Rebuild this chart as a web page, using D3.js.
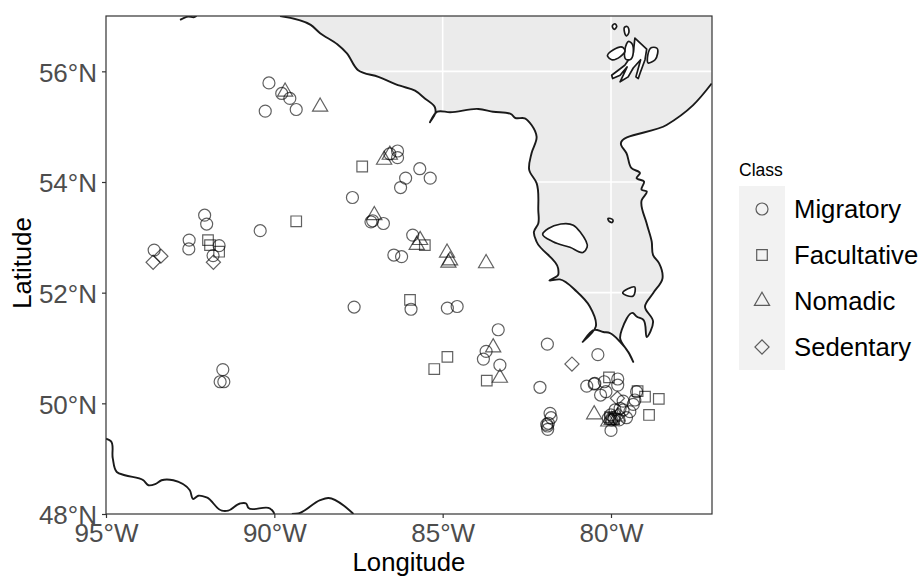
<!DOCTYPE html>
<html><head><meta charset="utf-8">
<script src="https://cdn.jsdelivr.net/npm/d3@7"></script>
<style>html,body{margin:0;padding:0;background:#fff}svg{display:block}text{font-family:"Liberation Sans",Arial,sans-serif}</style>
</head><body><svg id="c" width="921" height="576"></svg>
<script>
const migratory=[[-90.16,55.79],[-89.78,55.60],[-89.54,55.51],[-90.27,55.28],[-89.35,55.31],[-86.57,54.51],[-86.34,54.56],[-86.34,54.44],[-85.68,54.24],[-85.37,54.07],[-86.10,54.07],[-86.25,53.90],[-87.68,53.72],[-87.13,53.28],[-87.08,53.30],[-86.76,53.25],[-85.89,53.04],[-86.45,52.68],[-86.22,52.65],[-85.94,51.70],[-87.63,51.74],[-84.86,51.72],[-84.57,51.75],[-83.35,51.33],[-83.71,50.94],[-83.79,50.80],[-83.30,50.69],[-81.89,51.07],[-82.11,50.29],[-80.39,50.88],[-92.07,53.40],[-92.01,53.24],[-92.53,52.95],[-92.54,52.79],[-93.57,52.77],[-91.64,52.85],[-91.82,52.67],[-90.42,53.12],[-91.53,50.61],[-91.61,50.39],[-91.50,50.39],[-81.81,49.82],[-81.78,49.74],[-81.86,49.64],[-81.89,49.59],[-81.91,49.62],[-81.88,49.53],[-80.72,50.31],[-80.50,50.35],[-80.48,50.36],[-80.20,50.39],[-79.80,50.44],[-79.80,50.33],[-80.15,50.21],[-80.31,50.15],[-79.64,50.04],[-79.24,50.21],[-79.29,50.06],[-79.34,49.98],[-79.44,49.85],[-79.54,49.74],[-80.00,49.51],[-80.01,49.79],[-80.08,49.73],[-79.98,49.70],[-79.73,49.91],[-79.88,49.88],[-79.64,49.88],[-79.76,49.70]];
const facultative=[[-87.39,54.28],[-85.53,52.86],[-85.97,51.87],[-84.86,50.84],[-85.25,50.62],[-83.69,50.41],[-91.97,52.95],[-91.91,52.86],[-91.64,52.74],[-89.35,53.29],[-80.06,50.47],[-79.21,50.22],[-78.99,50.12],[-78.58,50.08],[-78.87,49.79],[-80.03,49.75],[-79.91,49.72]];
const nomadic=[[-89.68,55.63],[-88.64,55.36],[-86.74,54.40],[-86.57,54.49],[-87.03,53.40],[-85.67,52.95],[-85.77,52.86],[-84.87,52.72],[-84.78,52.58],[-84.83,52.54],[-83.71,52.53],[-83.50,51.01],[-83.30,50.46],[-80.50,49.80],[-79.98,49.70],[-79.81,49.76],[-80.08,49.67]];
const sedentary=[[-93.37,52.66],[-93.60,52.55],[-91.81,52.55],[-81.16,50.71],[-79.81,50.09],[-79.78,49.79],[-79.93,49.73]];
const classNames=["Migratory","Facultative","Nomadic","Sedentary"];
const lonTicks=[-95,-90,-85,-80];
const latTicks=[48,50,52,54,56];
const bayCoast=[[-89.83,57],[-88.92,56.84],[-88.64,56.69],[-88.13,56.49],[-87.85,56.33],[-87.51,56.02],[-86.91,55.90],[-86.27,55.74],[-85.82,55.65],[-85.53,55.51],[-85.23,55.35],[-85.21,55.27],[-85.38,55.08],[-85.16,55.27],[-84.78,55.26],[-83.94,55.32],[-83.50,55.27],[-82.95,55.22],[-82.85,55.16],[-82.56,55.15],[-82.36,55.03],[-82.21,54.82],[-82.36,54.52],[-82.43,54.22],[-82.21,53.98],[-82.16,53.49],[-82.16,53.25],[-82.29,53.10],[-82.21,52.92],[-81.57,52.44],[-81.57,52.32],[-81.83,52.22],[-81.52,52.24],[-81.02,52.02],[-80.63,51.75],[-80.45,51.39],[-80.84,51.11],[-80.48,51.33],[-80.23,51.29],[-80.03,51.27],[-79.73,51.11],[-79.49,50.93],[-79.34,50.75],[-79.49,50.93],[-79.73,51.18],[-79.68,51.33],[-79.34,51.63],[-79.24,51.57],[-79.04,51.51],[-78.94,51.20],[-78.75,51.48],[-78.99,51.75],[-78.75,51.99],[-78.47,52.26],[-78.57,52.53],[-78.75,52.68],[-78.79,52.92],[-78.94,53.25],[-79.09,53.67],[-78.94,53.83],[-79.09,53.86],[-79.02,54.01],[-79.24,54.07],[-79.14,54.16],[-79.39,54.25],[-79.54,54.52],[-79.70,54.67],[-78.35,55.03],[-77.56,55.39],[-77.01,55.78]];
const bayCorner=[[-77,57]];
const islands=[
[[-82.03,53.06],[-81.86,53.16],[-81.12,53.22],[-80.92,53.10],[-80.71,52.82],[-80.82,52.73],[-81.22,52.82],[-81.72,52.92]],
[[-80.09,53.34],[-79.94,53.31],[-79.96,53.27],[-80.07,53.30]],
[[-79.65,51.99],[-79.29,52.10],[-79.34,51.94],[-79.54,51.95]],
[[-79.96,56.82],[-79.88,56.86],[-79.83,56.81],[-79.91,56.76]],
[[-79.59,56.80],[-79.52,56.81],[-79.47,56.70],[-79.54,56.64]],
[[-79.29,56.60],[-78.94,56.40],[-78.99,56.21],[-79.14,55.96],[-79.19,55.87],[-79.26,55.90],[-79.12,56.21],[-79.34,56.06],[-79.49,55.90],[-79.73,55.81],[-79.52,56.08],[-79.73,55.93],[-79.95,55.87],[-79.98,55.93],[-79.59,56.11],[-79.34,56.33]],
[[-79.46,56.54],[-79.39,56.51],[-79.44,56.21],[-79.54,56.21]],
[[-80.10,56.27],[-79.64,56.43],[-79.59,56.39],[-79.98,56.21]],
[[-78.79,56.43],[-78.64,56.42],[-78.69,56.21],[-78.89,56.15]]
];
const southCoastA=[[-95,49.36],[-94.86,49.32],[-94.80,49.01],[-94.68,48.76],[-94.44,48.70],[-93.89,48.61],[-93.74,48.52],[-93.54,48.54],[-93.35,48.61],[-93.00,48.61],[-92.51,48.43],[-92.41,48.27],[-92.26,48.33],[-92.01,48.30],[-91.56,48.06],[-91.37,48.06],[-91.02,48.19],[-90.84,48.19],[-90.77,48.11],[-90.13,48.10],[-90.03,48.04],[-90,48]];
const southCoastB=[[-89.48,48],[-89.29,48.01],[-88.64,48.25],[-88.40,48.29],[-87.65,48]];
const northBit=[[-92.80,56.93],[-92.56,56.99],[-92.38,56.98],[-92.31,57]];

const svg=d3.select("#c");
const L=106,R=712,T=16,B=514;
const x=d3.scaleLinear().domain([-95,-77]).range([L,R]);
const y=d3.scaleLinear().domain([48,57]).range([B,T]);
const line=d3.line().x(d=>x(d[0])).y(d=>y(d[1])).curve(d3.curveCatmullRom.alpha(0.9));
const loop=d3.line().x(d=>x(d[0])).y(d=>y(d[1])).curve(d3.curveCatmullRomClosed.alpha(0.9));
const spiky=d3.line().x(d=>x(d[0])).y(d=>y(d[1])).curve(d3.curveLinearClosed);
const INK="#1a1a1a";

const bayPath=line(bayCoast)+"L"+x(bayCorner[0][0])+","+y(bayCorner[0][1])+"Z";
svg.append("clipPath").attr("id","bay").append("path").attr("d",bayPath);
svg.append("clipPath").attr("id","panel").append("rect").attr("x",L).attr("y",T).attr("width",R-L).attr("height",B-T);

svg.append("path").attr("d",bayPath).attr("fill","#ebebeb");
const grid=svg.append("g").attr("clip-path","url(#bay)").attr("stroke","#fff").attr("stroke-width",1.6);
grid.selectAll("line.v").data(lonTicks).join("line").attr("x1",d=>x(d)).attr("x2",d=>x(d)).attr("y1",T).attr("y2",B);
grid.selectAll("line.h").data(latTicks).join("line").attr("y1",d=>y(d)).attr("y2",d=>y(d)).attr("x1",L).attr("x2",R);

const coast=svg.append("g").attr("clip-path","url(#panel)").attr("stroke",INK).attr("stroke-width",1.9).attr("stroke-linejoin","round").attr("fill","none");
coast.selectAll("path.i").data(islands).join("path").attr("d",d=>d.length>8?spiky(d):loop(d)).attr("fill","#fff").attr("stroke-width",1.7);
[bayCoast,southCoastA,southCoastB,northBit].forEach(c=>coast.append("path").attr("d",line(c)));

const sym={Migratory:d3.symbol(d3.symbolCircle,113)(),Facultative:d3.symbol(d3.symbolSquare,112)(),Nomadic:d3.symbol(d3.symbolTriangle,100)(),Sedentary:d3.symbol(d3.symbolSquare,100)()};
const rot={Migratory:0,Facultative:0,Nomadic:0,Sedentary:45};
const series=[migratory,facultative,nomadic,sedentary];
const pts=svg.append("g").attr("fill","none").attr("stroke","#000").attr("stroke-opacity",.62).attr("stroke-width",1.2);
series.forEach((s,i)=>{
  const n=classNames[i];
  pts.selectAll("path."+n).data(s).join("path").attr("class",n).attr("d",sym[n])
    .attr("transform",d=>`translate(${x(d[0])},${y(d[1])}) rotate(${rot[n]})`);
});

svg.append("rect").attr("x",L).attr("y",T).attr("width",R-L).attr("height",B-T).attr("fill","none").attr("stroke","#333").attr("stroke-width",1.2);

const fmtLon=d=>Math.abs(d)+"°W", fmtLat=d=>d+"°N";
const ax=svg.append("g").attr("transform",`translate(0,${B})`).call(d3.axisBottom(x).tickValues(lonTicks).tickFormat(fmtLon).tickSize(4).tickPadding(6));
const ay=svg.append("g").attr("transform",`translate(${L},0)`).call(d3.axisLeft(y).tickValues(latTicks).tickFormat(fmtLat).tickSize(4).tickPadding(5));
[ax,ay].forEach(a=>{a.select(".domain").remove();a.selectAll("line").attr("stroke","#333").attr("stroke-width",1.2);a.selectAll("text").attr("fill","#4d4d4d").style("font-size","26px").style("font-family",'"Liberation Sans"');});
ay.selectAll("text").attr("dy","0.38em");

svg.append("text").attr("x",409).attr("y",571).attr("text-anchor","middle").attr("font-size",25.7).attr("fill","#000").text("Longitude");
svg.append("text").attr("transform","translate(31,263) rotate(-90)").attr("text-anchor","middle").attr("font-size",25.7).attr("fill","#000").text("Latitude");

svg.append("text").attr("x",739).attr("y",176).attr("font-size",17.5).attr("fill","#000").text("Class");
svg.append("rect").attr("x",739).attr("y",186).attr("width",46).attr("height",184).attr("fill","#f2f2f2");
const ly=d3.scaleBand().domain(classNames).range([186,370]);
const lg=svg.append("g").selectAll("g").data(classNames).join("g").attr("transform",d=>`translate(0,${ly(d)+ly.bandwidth()/2})`);
lg.append("path").attr("d",d=>sym[d]).attr("transform",d=>`translate(762,0) rotate(${rot[d]})`).attr("fill","none").attr("stroke","#000").attr("stroke-opacity",.62).attr("stroke-width",1.2);
lg.append("text").attr("x",794).attr("dy","0.36em").attr("font-size",25.7).attr("fill","#000").text(d=>d);
</script></body></html>
